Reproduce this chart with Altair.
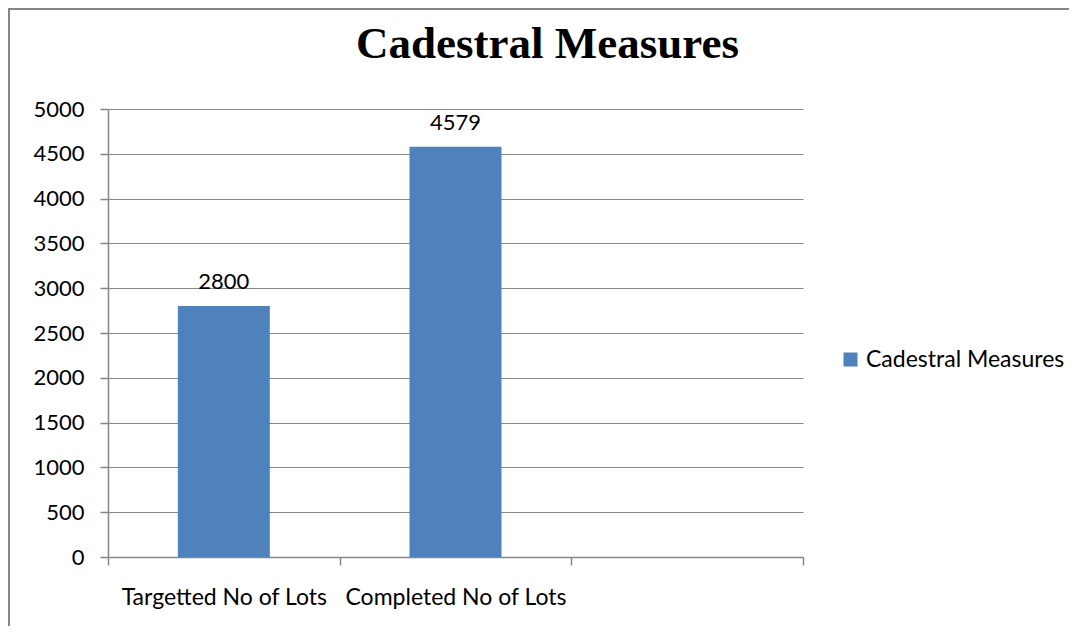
import altair as alt
import pandas as pd

categories = ["Targetted No of Lots", "Completed No of Lots"]
values = [2800, 4579]
series_name = "Cadestral Measures"
x_domain = ["Targetted No of Lots", "Completed No of Lots", " "]
y_ticks = [0, 500, 1000, 1500, 2000, 2500, 3000, 3500, 4000, 4500, 5000]

df = pd.DataFrame({"category": categories, "value": values, "series": [series_name] * len(categories)})

FONT = "Lato"
GRID = "#878787"

x_enc = alt.X("category:N", sort=x_domain,
              scale=alt.Scale(domain=x_domain, paddingInner=0, paddingOuter=0),
              axis=alt.Axis(title=None, tickBand="extent", labelAngle=0, labelFont=FONT,
                            labelFontSize=23, labelColor="#000000", labelPadding=21, labelLimit=0,
                            tickSize=8, tickColor=GRID, domainColor=GRID, grid=False))
y_enc = alt.Y("value:Q", scale=alt.Scale(domain=[0, 5000], nice=False),
              axis=alt.Axis(title=None, values=y_ticks, format="d", labelFont=FONT, labelFontSize=22,
                            labelColor="#000000", labelPadding=16, tickSize=8, tickColor=GRID,
                            domainColor=GRID, gridColor=GRID, gridOpacity=1))

bars = alt.Chart(df).mark_bar(width=alt.RelativeBandSize(0.397), color="#4F81BD").encode(
    x=x_enc, y=y_enc,
    color=alt.Color("series:N", scale=alt.Scale(domain=[series_name], range=["#4F81BD"]),
                    legend=alt.Legend(title=None, orient="none", legendX=731, legendY=239,
                                      symbolType="square", symbolSize=196, symbolStrokeWidth=0,
                                      labelFont=FONT, labelFontSize=23, labelColor="#000000",
                                      labelOffset=4, labelLimit=0, padding=0)),
)

labels = alt.Chart(df).mark_text(font=FONT, fontSize=22, color="#000000", baseline="alphabetic", dy=-17).encode(
    x=alt.X("category:N", sort=x_domain, scale=alt.Scale(domain=x_domain)),
    y=alt.Y("value:Q"),
    text=alt.Text("value:Q", format="d"),
)

frame = pd.DataFrame({"k": [0]})
top_border = alt.Chart(frame).mark_rule(color=GRID, strokeWidth=2).encode(
    x=alt.value(-100), x2=alt.value(1000), y=alt.value(-100))
left_border = alt.Chart(frame).mark_rule(color=GRID, strokeWidth=2).encode(
    x=alt.value(-99), y=alt.value(-101), y2=alt.value(600))

chart = alt.layer(bars, labels, top_border, left_border).properties(
    width=695, height=448,
    autosize=alt.AutoSizeParams(type="none"),
    padding={"left": 100, "top": 101, "right": 266, "bottom": 69},
    title=alt.Title(series_name, font="Liberation Serif", fontSize=45, fontWeight="bold",
                    color="#000000", anchor="middle", offset=-60, dx=92),
).configure_view(stroke=None).configure_axis(gridWidth=1, domainWidth=1.5, tickWidth=1.5)

chart.save("out.html", embed_options={"renderer": "svg", "actions": False})
